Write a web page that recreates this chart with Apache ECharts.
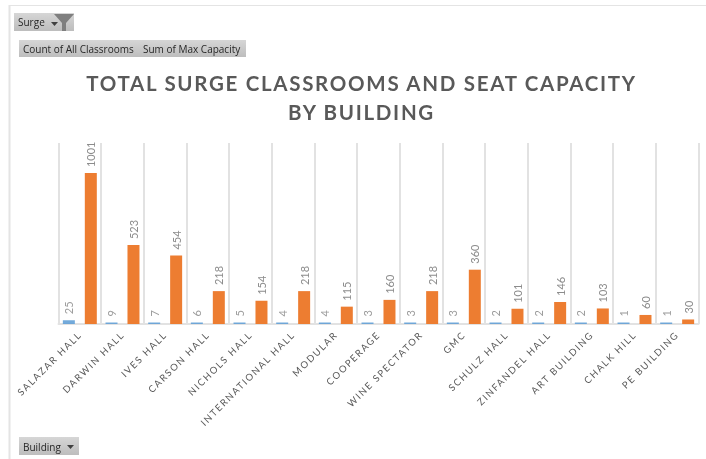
<!DOCTYPE html>
<html><head><meta charset="utf-8">
<style>
html,body{margin:0;padding:0;background:#fff}
#c{width:706px;height:459px;filter:blur(0.45px)}
#c text[style*="20.5px"]{letter-spacing:1.7px}
#c text[style*="9.5px"]{letter-spacing:1.6px}
</style>
<script src="https://cdn.jsdelivr.net/npm/echarts@6/dist/echarts.min.js"></script>
</head><body><div id="c"></div>
<script>
const categories=['SALAZAR HALL','DARWIN HALL','IVES HALL','CARSON HALL','NICHOLS HALL','INTERNATIONAL HALL','MODULAR','COOPERAGE','WINE SPECTATOR','GMC','SCHULZ HALL','ZINFANDEL HALL','ART BUILDING','CHALK HILL','PE BUILDING'];
const classroomCounts=[25,9,7,6,5,4,4,3,3,3,2,2,2,1,1];
const maxCapacity=[1001,523,454,218,154,218,115,160,218,360,101,146,103,60,30];
const titleText='TOTAL SURGE CLASSROOMS AND SEAT CAPACITY\nBY BUILDING';
const font='Lato';
const btnFont='"Open Sans"';
const grey={type:'linear',x:0,y:0,x2:0,y2:1,colorStops:[{offset:0,color:'#d6d6d6'},{offset:1,color:'#bdbdbd'}]};
const btn=(x,y,w,h)=>({type:'rect',shape:{x,y,width:w,height:h},style:{fill:grey},silent:true});
const label=(x,y,t)=>({type:'text',x,y,style:{text:t,fill:'#262626',font:'10px '+btnFont,textVerticalAlign:'middle'},silent:true});
const tri=(x,y)=>({type:'polygon',shape:{points:[[x,y],[x+7,y],[x+3.5,y+4]]},style:{fill:'#404040'},silent:true});
const dataLabel={show:true,position:'top',rotate:90,distance:6,align:'left',verticalAlign:'middle',color:'#8c8c8c',fontFamily:font,fontSize:11};
const chart=echarts.init(document.getElementById('c'),null,{renderer:'svg'});
chart.setOption({
  animation:false,backgroundColor:'#fff',
  title:{text:titleText,left:356.5,top:63,textAlign:'center',textStyle:{fontFamily:font,fontSize:20.5,fontWeight:'bold',color:'#595959',lineHeight:29}},
  grid:{left:58.5,right:7.5,top:143,bottom:135,containLabel:false},
  xAxis:{type:'category',data:categories,
    axisTick:{show:false},
    axisLine:{lineStyle:{color:'#e2e2e2',width:2}},
    splitLine:{show:true,lineStyle:{color:'#e2e2e2',width:2}},
    axisLabel:{interval:0,rotate:45,margin:9,color:'#595959',fontFamily:font,fontSize:9.5}},
  yAxis:{type:'value',min:0,max:1200,show:false,splitLine:{show:false}},
  series:[
    {type:'bar',name:'Count of All Classrooms',data:classroomCounts,barWidth:12,barGap:'83%',barMinHeight:1.5,itemStyle:{color:'#5b9bd5',opacity:0.85},label:dataLabel},
    {type:'bar',name:'Sum of Max Capacity',data:maxCapacity,barWidth:12,itemStyle:{color:'#ed7d31'},label:dataLabel}
  ],
  graphic:[
    {type:'line',shape:{x1:9.5,y1:5,x2:9.5,y2:459},style:{stroke:'#e4e4e4',lineWidth:2},silent:true},
    {type:'line',shape:{x1:9,y1:5.5,x2:706,y2:5.5},style:{stroke:'#e4e4e4',lineWidth:1},silent:true},
    btn(14,13,60,18),label(18,22,'Surge'),tri(51,22),
    {type:'polygon',shape:{points:[[54,14],[74,14],[66,23],[66,31],[62,31],[62,23]]},style:{fill:'#7f7f7f'},silent:true},
    btn(19,40,227,17),label(23,49,'Count of All Classrooms'),label(143,49,'Sum of Max Capacity'),
    btn(19,437,60,18),label(23,447,'Building'),tri(67,445)
  ]
});
</script></body></html>
